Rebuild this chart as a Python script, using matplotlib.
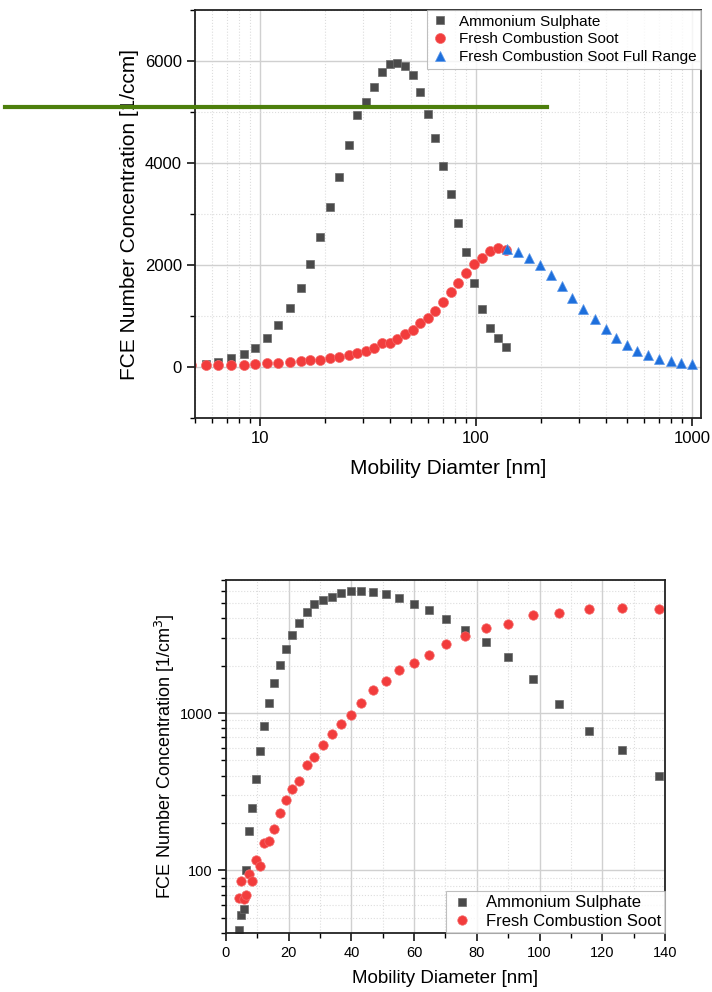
import numpy as np
import matplotlib
matplotlib.use("Agg")
import matplotlib.pyplot as plt
from matplotlib.ticker import MultipleLocator, LogLocator, FixedLocator, NullFormatter, ScalarFormatter
from matplotlib.lines import Line2D

plt.rcParams['font.family'] = ['Liberation Sans', 'DejaVu Sans']

# mobility diameter bins [nm] shared by ammonium sulphate and soot
diam = [4.3, 4.8, 5.6, 6.4, 7.3, 8.4, 9.5, 10.8, 12.1, 13.7, 15.4, 17.1, 19.0, 21.1,
        23.3, 25.7, 28.2, 30.8, 33.7, 36.7, 39.9, 43.2, 46.9, 50.9, 55.1, 59.8, 64.8,
        70.2, 76.2, 82.8, 89.9, 97.9, 106.3, 115.7, 126.4, 138.0]

ammonium = [42, 52, 57, 100, 178, 250, 381, 576, 823, 1151, 1545, 2026, 2540, 3142,
            3726, 4357, 4945, 5195, 5494, 5794, 5946, 5966, 5903, 5722, 5392, 4960, 4497,
            3935, 3383, 2817, 2257, 1645, 1139, 773, 578, 399]

# soot as shown in the upper (log x) panel
soot_top = [25, 30, 39, 33, 46, 46, 59, 72, 85, 105, 111, 131, 131, 175,
            195, 241, 268, 314, 366, 470, 470, 549, 640, 732, 856, 967, 1091,
            1280, 1463, 1646, 1848, 2025, 2143, 2274, 2339, 2290]

# soot as shown in the lower (log y) panel
soot_bottom = [67, 86, 66, 70, 95, 86, 116, 106, 149, 153, 183, 231, 280, 330,
               371, 468, 528, 627, 733, 857, 977, 1157, 1392, 1600, 1865, 2088, 2353,
               2755, 3097, 3461, 3705, 4178, 4351, 4565, 4630, 4550]

# full range soot
full_diam = [139.7, 157.0, 176.7, 198.6, 222.5, 250, 279, 314, 354.5, 398.5, 446, 500,
             558, 626, 706, 797, 892, 1000]
full_conc = [2307, 2254, 2143, 1993, 1803, 1588, 1359, 1137, 935, 738, 575, 431,
             314, 229, 157, 111, 72, 53]

c_sq = '#4a4a4a'
c_ci = '#f23c3c'
c_tr = '#1d6fdc'

fig = plt.figure(figsize=(7.12, 9.92), dpi=100)

def style(ax, fs):
    for s in ax.spines.values():
        s.set_linewidth(1.3)
        s.set_color('#222222')
    ax.tick_params(which='major', direction='out', length=6, width=1.1, labelsize=fs)
    ax.tick_params(which='minor', direction='out', length=3.5, width=1.0)
    ax.tick_params(top=False, right=False, which='both')
    ax.grid(which='major', color='#d0d0d0', lw=1.0, ls='-')
    ax.grid(which='minor', color='#dddddd', lw=0.8, ls=':')
    ax.set_axisbelow(True)

# ---- upper panel
ax1 = fig.add_axes([0.2739, 0.5786, 0.7107, 0.4113])
ax1.plot(diam, ammonium, 's', ms=6, color=c_sq, mec='#6a6a6a', mew=0.5, label='Ammonium Sulphate')
ax1.plot(diam, soot_top, 'o', ms=7.2, color=c_ci, mec='#f46a6a', mew=0.5, label='Fresh Combustion Soot')
ax1.plot(full_diam, full_conc, '^', ms=7.5, color=c_tr, mec='#5a96e8', mew=0.5,
         label='Fresh Combustion Soot Full Range')
ax1.set_xscale('log')
ax1.set_xlim(5, 1100)
ax1.set_ylim(-1000, 7000)
ax1.yaxis.set_major_locator(MultipleLocator(2000))
ax1.yaxis.set_minor_locator(MultipleLocator(1000))
ax1.xaxis.set_major_locator(FixedLocator([10, 100, 1000]))
ax1.xaxis.set_major_formatter(ScalarFormatter())
ax1.xaxis.set_minor_locator(LogLocator(base=10, subs=np.arange(2, 10)))
ax1.xaxis.set_minor_formatter(NullFormatter())
style(ax1, 12)
ax1.set_xlabel('Mobility Diamter [nm]', fontsize=15, labelpad=9)
ax1.set_ylabel('FCE Number Concentration [1/ccm]', fontsize=15, labelpad=4)
leg1 = ax1.legend(loc='upper right', borderaxespad=0, fontsize=11, frameon=True, fancybox=False,
                  handletextpad=0.6, borderpad=0.3, labelspacing=0.25, handlelength=1.2)
leg1.get_frame().set_edgecolor('#b0b0b0')
leg1.get_frame().set_linewidth(0.8)

# ---- lower panel
ax2 = fig.add_axes([0.3174, 0.0595, 0.6166, 0.3558])
ax2.plot(diam, ammonium, 's', ms=6, color=c_sq, mec='#6a6a6a', mew=0.5, label='Ammonium Sulphate')
ax2.plot(diam, soot_bottom, 'o', ms=6.8, color=c_ci, mec='#f46a6a', mew=0.5, label='Fresh Combustion Soot')
ax2.set_yscale('log')
ax2.set_xlim(0, 140)
ax2.set_ylim(40, 7000)
ax2.xaxis.set_major_locator(MultipleLocator(20))
ax2.xaxis.set_minor_locator(MultipleLocator(10))
ax2.yaxis.set_major_locator(FixedLocator([100, 1000]))
ax2.yaxis.set_major_formatter(ScalarFormatter())
ax2.yaxis.set_minor_locator(LogLocator(base=10, subs=np.arange(2, 10)))
ax2.yaxis.set_minor_formatter(NullFormatter())
style(ax2, 10.5)
ax2.set_xlabel('Mobility Diameter [nm]', fontsize=13.5, labelpad=7)
ax2.set_ylabel('FCE Number Concentration [1/cm$^3$]', fontsize=13, labelpad=2)
leg2 = ax2.legend(loc='lower right', borderaxespad=0, fontsize=12, frameon=True, fancybox=False,
                  handletextpad=0.7, borderpad=0.25, labelspacing=0.2, handlelength=1.4)
leg2.get_frame().set_edgecolor('#b0b0b0')
leg2.get_frame().set_linewidth(0.8)

# green annotation line across the upper panel
fig.add_artist(Line2D([5 / 712, 547 / 712], [1 - 107 / 992, 1 - 107 / 992],
                      transform=fig.transFigure, color='#4d7f0c', lw=3))

fig.savefig('out.png', dpi=100)
